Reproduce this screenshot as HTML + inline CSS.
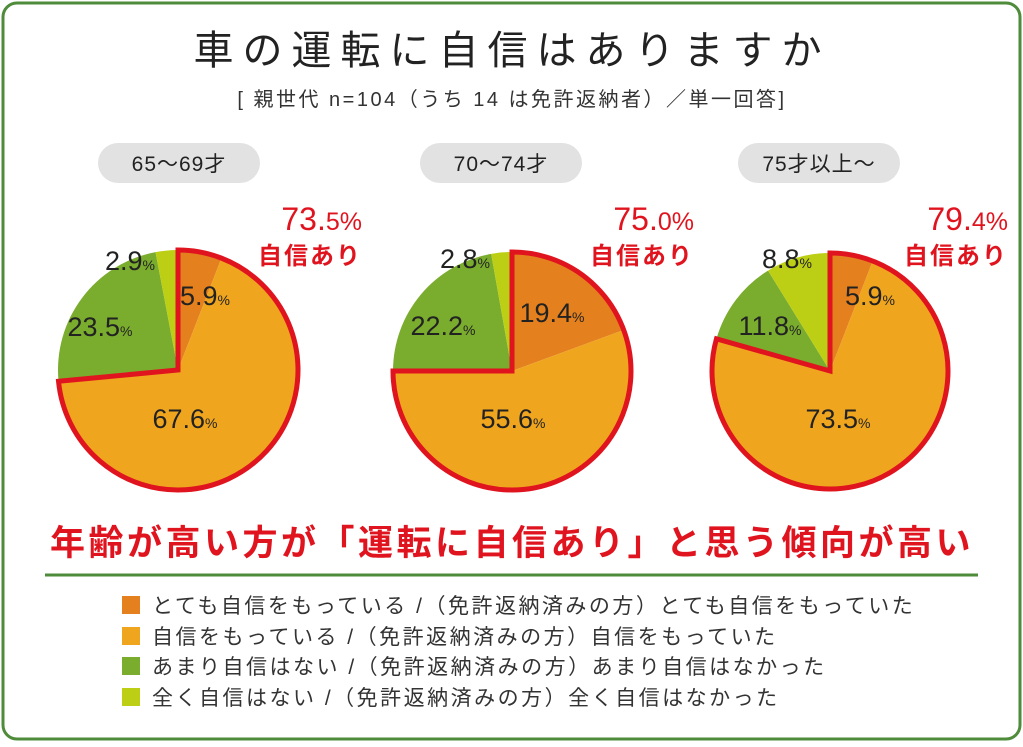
<!DOCTYPE html>
<html><head><meta charset="utf-8"><style>
body{margin:0;background:#fff;}
svg text{font-family:"Liberation Sans","Noto Sans CJK JP",sans-serif;}
</style></head><body>
<svg id="s" width="1023" height="742" xmlns="http://www.w3.org/2000/svg">
<rect x="3" y="3" width="1017" height="736" rx="14" fill="#fff" stroke="#4e8b3a" stroke-width="3"/>
<text x="512" y="64" font-size="40" letter-spacing="9" text-anchor="middle" fill="#222">車の運転に自信はありますか</text>
<text x="512" y="106" font-size="20" letter-spacing="2.5" text-anchor="middle" fill="#333">[ 親世代 n=104（うち 14 は免許返納者）／単一回答]</text>
<rect x="98" y="143" width="162" height="40" rx="20" fill="#e2e2e2"/>
<text x="179" y="171" font-size="21" letter-spacing="1" text-anchor="middle" fill="#222">65〜69才</text>
<rect x="420" y="143" width="162" height="40" rx="20" fill="#e2e2e2"/>
<text x="501" y="171" font-size="21" letter-spacing="1" text-anchor="middle" fill="#222">70〜74才</text>
<rect x="738" y="143" width="162" height="40" rx="20" fill="#e2e2e2"/>
<text x="819" y="171" font-size="21" letter-spacing="1" text-anchor="middle" fill="#222">75才以上〜</text>
<g id="pies"></g>
<text x="512" y="555" font-size="35" letter-spacing="3.5" font-weight="bold" text-anchor="middle" fill="#e0141e">年齢が高い方が「運転に自信あり」と思う傾向が高い</text>
<line x1="45" y1="575" x2="978" y2="575" stroke="#4e8b3a" stroke-width="3"/>
<g font-size="21" letter-spacing="2.5" fill="#333">
<rect x="122" y="596" width="18" height="18" fill="#e5801e"/><text x="152" y="613">とても自信をもっている /（免許返納済みの方）とても自信をもっていた</text>
<rect x="122" y="627" width="18" height="18" fill="#f0a51f"/><text x="152" y="644">自信をもっている /（免許返納済みの方）自信をもっていた</text>
<rect x="122" y="657" width="18" height="18" fill="#7aac2e"/><text x="152" y="674">あまり自信はない /（免許返納済みの方）あまり自信はなかった</text>
<rect x="122" y="688" width="18" height="18" fill="#bccf15"/><text x="152" y="705">全く自信はない /（免許返納済みの方）全く自信はなかった</text>
</g>
</svg>
<script>
var g=document.getElementById('pies'),ns='http://www.w3.org/2000/svg';
var cols=['#e5801e','#f0a51f','#7aac2e','#bccf15'];
var pies=[
{cx:178,cy:370,r:120,v:[5.9,67.6,23.5,2.9],tot:'73.5',tx:362,
 lab:[[205,305,'5.9'],[185,428,'67.6'],[100,336,'23.5'],[130,270,'2.9']]},
{cx:512,cy:371,r:119,v:[19.4,55.6,22.2,2.8],tot:'75.0',tx:694,
 lab:[[552,322,'19.4'],[513,428,'55.6'],[443,335,'22.2'],[465,268,'2.8']]},
{cx:830,cy:371,r:118,v:[5.9,73.5,11.8,8.8],tot:'79.4',tx:1008,
 lab:[[870,305,'5.9'],[838,428,'73.5'],[770,335,'11.8'],[787,268,'8.8']]}];
function pt(p,a){a=a*Math.PI*2/100;return [p.cx+p.r*Math.sin(a),p.cy-p.r*Math.cos(a)];}
function arc(p,a0,a1){var s=pt(p,a0),e=pt(p,a1);return 'M'+p.cx+','+p.cy+'L'+s+'A'+p.r+','+p.r+' 0 '+((a1-a0)>50?1:0)+' 1 '+e+'Z';}
function el(t,at,txt){var e=document.createElementNS(ns,t);for(var k in at)e.setAttribute(k,at[k]);if(txt)e.textContent=txt;g.appendChild(e);return e;}
pies.forEach(function(p){
 var a=0;p.v.forEach(function(v,i){el('path',{d:arc(p,a,a+v),fill:cols[i]});a+=v;});
 el('path',{d:arc(p,0,p.v[0]+p.v[1]),fill:'none',stroke:'#e0141e','stroke-width':5,'stroke-linejoin':'miter'});
 p.lab.forEach(function(l){var t=el('text',{x:l[0],y:l[1],'font-size':27,'text-anchor':'middle',fill:'#222'},l[2]);
  var s=document.createElementNS(ns,'tspan');s.setAttribute('font-size','14');s.textContent='%';t.appendChild(s);});
 var t=el('text',{x:p.tx,y:230,'font-size':32,'text-anchor':'end',fill:'#e0141e'},p.tot.slice(0,-1));
 var s=document.createElementNS(ns,'tspan');s.setAttribute('font-size','25');s.textContent=p.tot.slice(-1)+'%';t.appendChild(s);
 el('text',{x:p.tx,y:264,'font-size':24,'letter-spacing':2,'font-weight':'bold','text-anchor':'end',fill:'#e0141e'},'自信あり');
});
</script>
</body></html>
